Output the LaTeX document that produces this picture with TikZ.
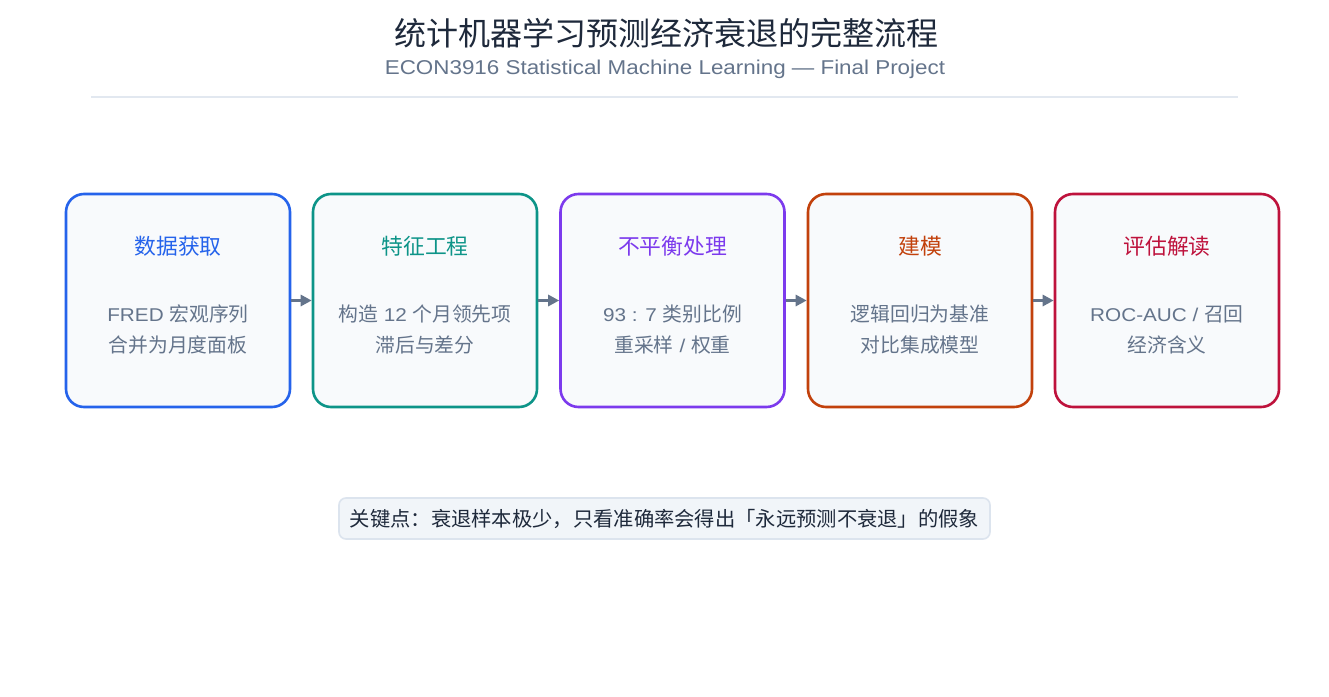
\documentclass[tikz,border=0pt]{standalone}
\usepackage{fontspec}
\setmainfont{Noto Sans CJK SC}
\newfontfamily\latfont[FakeStretch=1.12, WordSpace=1.4]{Liberation Sans}
\newfontfamily\subfont[FakeStretch=1.12]{Liberation Sans}
\newcommand{\lat}[1]{{\latfont\fontsize{18.5}{24}\selectfont #1}}
\usetikzlibrary{arrows.meta}
\definecolor{cblue}{HTML}{2563EB}
\definecolor{cteal}{HTML}{0D9488}
\definecolor{cpurple}{HTML}{7C3AED}
\definecolor{corange}{HTML}{C2410C}
\definecolor{ccrimson}{HTML}{BE123C}
\definecolor{boxfill}{HTML}{F8FAFC}
\definecolor{slate}{HTML}{64748B}
\definecolor{dark}{HTML}{1E293B}
\definecolor{rulec}{HTML}{E2E8F0}
\definecolor{notefill}{HTML}{F1F5F9}
\definecolor{noteborder}{HTML}{DCE4EE}
\tikzset{
  stagebox/.style={draw=#1, line width=2.6pt, fill=boxfill, rounded corners=18pt,
    minimum width=224pt, minimum height=213pt, inner sep=0pt},
  stagetitle/.style={text=#1, font=\fontsize{21.8}{26}\selectfont, inner sep=0pt, anchor=center},
  stagebody/.style={text=slate, font=\fontsize{19.8}{24}\selectfont, inner sep=0pt, anchor=center},
  flowarrow/.style={draw=slate, line width=2.8pt, -{Triangle[length=11pt,width=11pt]}},
}
\begin{document}
\begin{tikzpicture}[x=1pt, y=-1pt]
\useasboundingbox (0,0) rectangle (1329,696);
\fill[white] (0,0) rectangle (1329,696);
\node[text=dark, font=\fontsize{32}{38}\selectfont, inner sep=0pt] (title) at (666,33) {统计机器学习预测经济衰退的完整流程};
\node[text=slate, font=\subfont\fontsize{20}{24}\selectfont, inner sep=0pt] (subtitle) at (665,69) {ECON3916 Statistical Machine Learning — Final Project};
\coordinate (ruleL) at (91,97);
\coordinate (ruleR) at (1238,97);
\draw[rulec, line width=1.5pt] (ruleL) -- (ruleR);

\node[stagebox=cblue] (b1) at (178,300.5) {};
\node[stagebox=cteal] (b2) at (425,300.5) {};
\node[stagebox=cpurple] (b3) at (672.5,300.5) {};
\node[stagebox=corange] (b4) at (920,300.5) {};
\node[stagebox=ccrimson] (b5) at (1167,300.5) {};

\node[stagetitle=cblue] (t1) at (178,246) {数据获取};
\node[stagebody] (p1a) at (178,314) {\lat{FRED }宏观序列};
\node[stagebody] (p1b) at (178,345) {合并为月度面板};

\node[stagetitle=cteal] (t2) at (425,246) {特征工程};
\node[stagebody] (p2a) at (425,314) {构造\lat{ 12 }个月领先项};
\node[stagebody] (p2b) at (425,345) {滞后与差分};

\node[stagetitle=cpurple] (t3) at (672.5,246) {不平衡处理};
\node[stagebody] (p3a) at (672.5,314) {\lat{93 : 7 }类别比例};
\node[stagebody] (p3b) at (672.5,345) {重采样\lat{ / }权重};

\node[stagetitle=corange] (t4) at (920,246) {建模};
\node[stagebody] (p4a) at (920,314) {逻辑回归为基准};
\node[stagebody] (p4b) at (920,345) {对比集成模型};

\node[stagetitle=ccrimson] (t5) at (1167,246) {评估解读};
\node[stagebody] (p5a) at (1167,314) {\lat{ROC-AUC / }召回};
\node[stagebody] (p5b) at (1167,345) {经济含义};

\draw[flowarrow] (b1.east) -- (b2.west);
\draw[flowarrow] (b2.east) -- (b3.west);
\draw[flowarrow] (b3.east) -- (b4.west);
\draw[flowarrow] (b4.east) -- (b5.west);

\node[draw=noteborder, line width=1.6pt, fill=notefill, rounded corners=7pt,
  minimum width=651pt, minimum height=41pt, inner sep=0pt] (notebox) at (664.5,518.5) {};
\node[text=dark, font=\fontsize{20.3}{24}\selectfont, inner sep=0pt] (note) at (664.5,518.5) {关键点：衰退样本极少，只看准确率会得出「永远预测不衰退」的假象};
\end{tikzpicture}
\end{document}
